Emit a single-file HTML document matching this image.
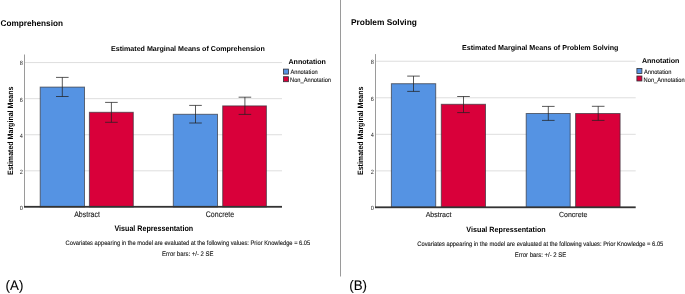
<!DOCTYPE html>
<html><head><meta charset="utf-8"><style>
html,body{margin:0;padding:0;background:#fff;}
svg{display:block;will-change:transform;}
</style></head><body>
<svg width="685" height="294" viewBox="0 0 685 294" font-family="Liberation Sans, sans-serif" text-rendering="geometricPrecision">
<rect width="685" height="294" fill="#fff"/>
<line x1="340.5" y1="0" x2="340.5" y2="276.5" stroke="#9a9a9a" stroke-width="1"/>
<line x1="25.0" y1="62.58" x2="282" y2="62.58" stroke="#dedede" stroke-width="1"/>
<line x1="25.0" y1="98.66" x2="282" y2="98.66" stroke="#dedede" stroke-width="1"/>
<line x1="25.0" y1="134.74" x2="282" y2="134.74" stroke="#dedede" stroke-width="1"/>
<line x1="25.0" y1="170.82" x2="282" y2="170.82" stroke="#dedede" stroke-width="1"/>
<line x1="24.5" y1="54.5" x2="24.5" y2="206.9" stroke="#9a9a9a" stroke-width="1"/>
<text transform="translate(22.9 65.48) scale(1 1.1)" font-size="5.6" text-anchor="end" fill="#222">8</text>
<text transform="translate(22.9 101.56) scale(1 1.1)" font-size="5.6" text-anchor="end" fill="#222">6</text>
<text transform="translate(22.9 137.64) scale(1 1.1)" font-size="5.6" text-anchor="end" fill="#222">4</text>
<text transform="translate(22.9 173.72) scale(1 1.1)" font-size="5.6" text-anchor="end" fill="#222">2</text>
<text transform="translate(22.9 209.8) scale(1 1.1)" font-size="5.6" text-anchor="end" fill="#222">0</text>
<rect x="40.2" y="87.1" width="44.3" height="119.8" fill="#5593e3" stroke="#303038" stroke-width="1" stroke-opacity="0.68"/>
<rect x="89.4" y="112.3" width="43.9" height="94.6" fill="#d9003a" stroke="#303038" stroke-width="1" stroke-opacity="0.68"/>
<rect x="173.3" y="114.3" width="44.2" height="92.6" fill="#5593e3" stroke="#303038" stroke-width="1" stroke-opacity="0.68"/>
<rect x="222.7" y="105.9" width="43.7" height="101.0" fill="#d9003a" stroke="#303038" stroke-width="1" stroke-opacity="0.68"/>
<line x1="62.3" y1="77.4" x2="62.3" y2="96.5" stroke="#222" stroke-width="0.75"/>
<line x1="56.0" y1="77.4" x2="68.6" y2="77.4" stroke="#222" stroke-width="0.75"/>
<line x1="56.0" y1="96.5" x2="68.6" y2="96.5" stroke="#222" stroke-width="0.75"/>
<line x1="111.4" y1="102.4" x2="111.4" y2="122.3" stroke="#222" stroke-width="0.75"/>
<line x1="105.1" y1="102.4" x2="117.7" y2="102.4" stroke="#222" stroke-width="0.75"/>
<line x1="105.1" y1="122.3" x2="117.7" y2="122.3" stroke="#222" stroke-width="0.75"/>
<line x1="195.5" y1="105.4" x2="195.5" y2="123" stroke="#222" stroke-width="0.75"/>
<line x1="189.2" y1="105.4" x2="201.8" y2="105.4" stroke="#222" stroke-width="0.75"/>
<line x1="189.2" y1="123" x2="201.8" y2="123" stroke="#222" stroke-width="0.75"/>
<line x1="244.9" y1="97.2" x2="244.9" y2="114.4" stroke="#222" stroke-width="0.75"/>
<line x1="238.6" y1="97.2" x2="251.2" y2="97.2" stroke="#222" stroke-width="0.75"/>
<line x1="238.6" y1="114.4" x2="251.2" y2="114.4" stroke="#222" stroke-width="0.75"/>
<rect x="24.0" y="205.9" width="258.0" height="1.8" fill="#333"/>
<line x1="376.0" y1="61.24" x2="635.7" y2="61.24" stroke="#dedede" stroke-width="1"/>
<line x1="376.0" y1="97.78" x2="635.7" y2="97.78" stroke="#dedede" stroke-width="1"/>
<line x1="376.0" y1="134.32" x2="635.7" y2="134.32" stroke="#dedede" stroke-width="1"/>
<line x1="376.0" y1="170.86" x2="635.7" y2="170.86" stroke="#dedede" stroke-width="1"/>
<line x1="375.5" y1="54.1" x2="375.5" y2="207.4" stroke="#9a9a9a" stroke-width="1"/>
<text transform="translate(373.9 64.14) scale(1 1.1)" font-size="5.6" text-anchor="end" fill="#222">8</text>
<text transform="translate(373.9 100.68) scale(1 1.1)" font-size="5.6" text-anchor="end" fill="#222">6</text>
<text transform="translate(373.9 137.22) scale(1 1.1)" font-size="5.6" text-anchor="end" fill="#222">4</text>
<text transform="translate(373.9 173.76) scale(1 1.1)" font-size="5.6" text-anchor="end" fill="#222">2</text>
<text transform="translate(373.9 210.3) scale(1 1.1)" font-size="5.6" text-anchor="end" fill="#222">0</text>
<rect x="391.4" y="83.7" width="44.3" height="123.7" fill="#5593e3" stroke="#303038" stroke-width="1" stroke-opacity="0.68"/>
<rect x="441.3" y="104.3" width="44.2" height="103.1" fill="#d9003a" stroke="#303038" stroke-width="1" stroke-opacity="0.68"/>
<rect x="526.2" y="113.5" width="44" height="93.9" fill="#5593e3" stroke="#303038" stroke-width="1" stroke-opacity="0.68"/>
<rect x="575.6" y="113.5" width="44.5" height="93.9" fill="#d9003a" stroke="#303038" stroke-width="1" stroke-opacity="0.68"/>
<line x1="413.5" y1="76.1" x2="413.5" y2="91.4" stroke="#222" stroke-width="0.75"/>
<line x1="407.2" y1="76.1" x2="419.8" y2="76.1" stroke="#222" stroke-width="0.75"/>
<line x1="407.2" y1="91.4" x2="419.8" y2="91.4" stroke="#222" stroke-width="0.75"/>
<line x1="463.5" y1="96.5" x2="463.5" y2="112.6" stroke="#222" stroke-width="0.75"/>
<line x1="457.2" y1="96.5" x2="469.8" y2="96.5" stroke="#222" stroke-width="0.75"/>
<line x1="457.2" y1="112.6" x2="469.8" y2="112.6" stroke="#222" stroke-width="0.75"/>
<line x1="548.3" y1="106.4" x2="548.3" y2="120.4" stroke="#222" stroke-width="0.75"/>
<line x1="542.0" y1="106.4" x2="554.6" y2="106.4" stroke="#222" stroke-width="0.75"/>
<line x1="542.0" y1="120.4" x2="554.6" y2="120.4" stroke="#222" stroke-width="0.75"/>
<line x1="598.2" y1="106.3" x2="598.2" y2="120.4" stroke="#222" stroke-width="0.75"/>
<line x1="591.9" y1="106.3" x2="604.5" y2="106.3" stroke="#222" stroke-width="0.75"/>
<line x1="591.9" y1="120.4" x2="604.5" y2="120.4" stroke="#222" stroke-width="0.75"/>
<rect x="375.0" y="206.4" width="260.7" height="1.8" fill="#333"/>
<rect x="283.5" y="69.1" width="5.0" height="5.0" fill="#5593e3" stroke="#303038" stroke-width="0.8"/><rect x="283.5" y="76.7" width="5.0" height="5.0" fill="#d9003a" stroke="#303038" stroke-width="0.8"/><rect x="636.9" y="68.5" width="5.0" height="5.0" fill="#5593e3" stroke="#303038" stroke-width="0.8"/><rect x="636.9" y="76.0" width="5.0" height="5.0" fill="#d9003a" stroke="#303038" stroke-width="0.8"/>
<text transform="translate(0.6 26) scale(1 1.02)" font-size="8.2" font-weight="bold" text-anchor="start" fill="#000" >Comprehension</text>
<text x="187.9" y="51" font-size="7.1" font-weight="bold" text-anchor="middle" fill="#000" >Estimated Marginal Means of Comprehension</text>
<text x="288.5" y="64" font-size="7.1" font-weight="bold" text-anchor="start" fill="#000" >Annotation</text>
<text transform="translate(290.4 74) scale(1 1.1)" font-size="5.72" stroke="#222" stroke-width="0.1" text-anchor="start" fill="#111" >Annotation</text>
<text transform="translate(290.0 82) scale(1 1.1)" font-size="5.72" stroke="#222" stroke-width="0.1" text-anchor="start" fill="#111" >Non_Annotation</text>
<text transform="translate(87 217) scale(1 1.15)" font-size="7.0" stroke="#222" stroke-width="0.1" text-anchor="middle" fill="#111" >Abstract</text>
<text transform="translate(220 217) scale(1 1.15)" font-size="7.0" stroke="#222" stroke-width="0.1" text-anchor="middle" fill="#111" >Concrete</text>
<text transform="translate(153.8 231) scale(1 1.1)" font-size="7.14" font-weight="bold" text-anchor="middle" fill="#000" >Visual Repressentation</text>
<text transform="translate(187.9 245) scale(1 1.14)" font-size="5.74" stroke="#222" stroke-width="0.1" text-anchor="middle" fill="#111" >Covariates appearing in the model are evaluated at the following values: Prior Knowledge = 6.05</text>
<text transform="translate(187.7 256) scale(1 1.12)" font-size="5.96" stroke="#222" stroke-width="0.1" text-anchor="middle" fill="#111" >Error bars: +/- 2 SE</text>
<text transform="translate(5.6 290) scale(1 1.03)" font-size="13.3" stroke="#222" stroke-width="0.1" text-anchor="start" fill="#000" >(A)</text>
<text font-size="7.06" font-weight="bold" text-anchor="middle" transform="translate(13.1 130.8) rotate(-90) scale(1 1.1)">Estimated Marginal Means</text>
<text x="351.0" y="25" font-size="8.35" font-weight="bold" text-anchor="start" fill="#000" >Problem Solving</text>
<text x="540.2" y="50" font-size="7.13" font-weight="bold" text-anchor="middle" fill="#000" >Estimated Marginal Means of Problem Solving</text>
<text x="641.9" y="63" font-size="7.1" font-weight="bold" text-anchor="start" fill="#000" >Annotation</text>
<text transform="translate(644.0 74) scale(1 1.1)" font-size="5.72" stroke="#222" stroke-width="0.1" text-anchor="start" fill="#111" >Annotation</text>
<text transform="translate(643.6 82) scale(1 1.1)" font-size="5.72" stroke="#222" stroke-width="0.1" text-anchor="start" fill="#111" >Non_Annotation</text>
<text transform="translate(438.5 217) scale(1 1.05)" font-size="7.0" stroke="#222" stroke-width="0.1" text-anchor="middle" fill="#111" >Abstract</text>
<text transform="translate(573.2 217) scale(1 1.05)" font-size="7.0" stroke="#222" stroke-width="0.1" text-anchor="middle" fill="#111" >Concrete</text>
<text transform="translate(506 232) scale(1 1.05)" font-size="7.2" font-weight="bold" text-anchor="middle" fill="#000" >Visual Repressentation</text>
<text transform="translate(540.3 246) scale(1 1.1)" font-size="5.77" stroke="#222" stroke-width="0.1" text-anchor="middle" fill="#111" >Covariates appearing in the model are evaluated at the following values: Prior Knowledge = 6.05</text>
<text transform="translate(540.5 257) scale(1 1.12)" font-size="5.98" stroke="#222" stroke-width="0.1" text-anchor="middle" fill="#111" >Error bars: +/- 2 SE</text>
<text transform="translate(349.3 290) scale(1 1.03)" font-size="13.3" stroke="#222" stroke-width="0.1" text-anchor="start" fill="#000" >(B)</text>
<text font-size="7.06" font-weight="bold" text-anchor="middle" transform="translate(363.4 130.8) rotate(-90) scale(1 1.1)">Estimated Marginal Means</text>
</svg>
</body></html>
